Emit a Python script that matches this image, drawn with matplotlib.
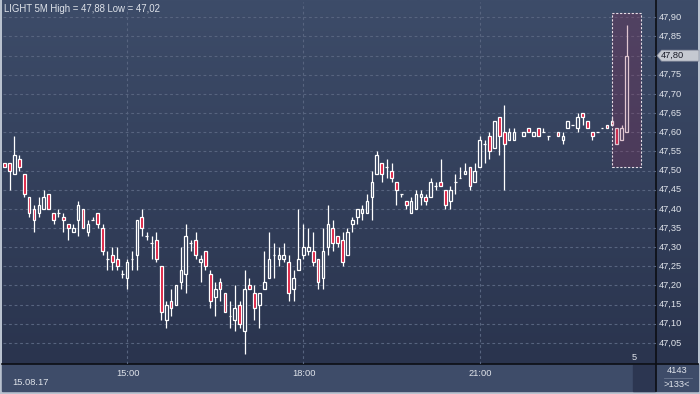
import numpy as np
import pandas as pd
import matplotlib
matplotlib.use("Agg")
import matplotlib.pyplot as plt
from matplotlib.patches import Rectangle, Polygon

plt.rcParams['font.family'] = ['Liberation Sans', 'DejaVu Sans']

# 5 minute bars, LIGHT, 15.08.17 (None = no trade in that bar)
opens = [47.52, 47.52, 47.49, 47.53, 47.49, 47.43, 47.40, 47.39, 47.40, 47.44,
         47.39, 47.39, 47.38, 47.36, 47.34, 47.37, 47.40, 47.34, 47.37, 47.39,
         47.35, 47.27, 47.28, 47.27, 47.23, 47.22, 47.27, 47.28, 47.38, 47.33,
         47.31, 47.32, 47.25, 47.11, 47.16, 47.15, 47.21, 47.23, 47.31, 47.32,
         47.26, 47.29, 47.23, 47.17, 47.21, 47.18, 47.12, 47.11, 47.15, 47.08,
         47.20, 47.18, 47.15, 47.19, 47.22, 47.28, 47.27, 47.27, 47.26, 47.19,
         47.24, 47.28, 47.29, 47.29, 47.27, 47.22, 47.30, 47.35, 47.33, 47.32,
         47.28, 47.36, 47.38, 47.39, 47.39, 47.43, 47.49, 47.52, 47.51, 47.50,
         47.47, 47.44, 47.42, 47.39, 47.40, 47.43, 47.43, 47.43, 47.46, 47.47,
         47.45, 47.42, 47.47, 47.48, 47.49, 47.51, 47.47, 47.51, 47.57, 47.59,
         47.56, 47.64, 47.60, 47.58, 47.58, None, 47.59, 47.61, 47.59, 47.61,
         47.60, 47.59, None, 47.60, 47.58, 47.61, 47.62, 47.61, 47.65, 47.63,
         47.60, 47.60, 47.61, 47.62, 47.63, 47.61, 47.58, 47.60]
highs = [47.52, 47.52, 47.59, 47.54, 47.49, 47.43, 47.41, 47.43, 47.45, 47.44,
         47.39, 47.40, 47.39, 47.36, 47.36, 47.42, 47.40, 47.37, 47.38, 47.39,
         47.36, 47.29, 47.30, 47.30, 47.24, 47.27, 47.29, 47.37, 47.40, 47.34,
         47.33, 47.34, 47.25, 47.16, 47.19, 47.20, 47.30, 47.36, 47.32, 47.34,
         47.28, 47.29, 47.24, 47.21, 47.22, 47.18, 47.16, 47.20, 47.16, 47.24,
         47.22, 47.20, 47.18, 47.29, 47.34, 47.31, 47.30, 47.31, 47.28, 47.24,
         47.40, 47.36, 47.35, 47.34, 47.27, 47.35, 47.41, 47.37, 47.33, 47.34,
         47.35, 47.38, 47.40, 47.41, 47.44, 47.50, 47.55, 47.52, 47.53, 47.52,
         47.47, 47.44, 47.42, 47.43, 47.45, 47.45, 47.44, 47.48, 47.47, 47.53,
         47.45, 47.46, 47.49, 47.51, 47.52, 47.51, 47.52, 47.59, 47.58, 47.60,
         47.63, 47.64, 47.67, 47.61, 47.61, None, 47.60, 47.61, 47.60, 47.61,
         47.61, 47.59, None, 47.60, 47.60, 47.63, 47.62, 47.65, 47.65, 47.63,
         47.60, 47.60, 47.61, 47.62, 47.64, 47.61, 47.62, 47.88]
lows = [47.51, 47.45, 47.49, 47.50, 47.43, 47.38, 47.34, 47.38, 47.40, 47.40,
        47.36, 47.38, 47.34, 47.32, 47.34, 47.33, 47.35, 47.33, 47.37, 47.35,
        47.28, 47.24, 47.24, 47.24, 47.22, 47.19, 47.24, 47.24, 47.33, 47.32,
        47.27, 47.26, 47.11, 47.09, 47.12, 47.15, 47.19, 47.18, 47.29, 47.27,
        47.21, 47.24, 47.14, 47.12, 47.16, 47.13, 47.09, 47.08, 47.09, 47.02,
        47.19, 47.11, 47.09, 47.19, 47.22, 47.22, 47.25, 47.26, 47.16, 47.16,
        47.24, 47.27, 47.28, 47.25, 47.19, 47.19, 47.28, 47.29, 47.30, 47.25,
        47.28, 47.34, 47.36, 47.37, 47.39, 47.37, 47.49, 47.47, 47.48, 47.47,
        47.41, 47.43, 47.40, 47.39, 47.40, 47.41, 47.41, 47.43, 47.45, 47.46,
        47.40, 47.40, 47.44, 47.48, 47.49, 47.45, 47.47, 47.51, 47.52, 47.53,
        47.56, 47.54, 47.45, 47.58, 47.58, None, 47.59, 47.60, 47.59, 47.59,
        47.60, 47.58, None, 47.59, 47.57, 47.61, 47.62, 47.60, 47.62, 47.61,
        47.58, 47.60, 47.61, 47.61, 47.62, 47.57, 47.58, 47.60]
closes = [47.51, 47.50, 47.54, 47.51, 47.44, 47.39, 47.37, 47.41, 47.43, 47.40,
          47.37, 47.39, 47.37, 47.35, 47.35, 47.41, 47.35, 47.36, 47.37, 47.36,
          47.29, 47.27, 47.26, 47.25, 47.23, 47.26, 47.27, 47.37, 47.35, 47.33,
          47.31, 47.27, 47.13, 47.15, 47.14, 47.20, 47.24, 47.33, 47.31, 47.28,
          47.27, 47.25, 47.16, 47.19, 47.19, 47.13, 47.12, 47.14, 47.10, 47.19,
          47.19, 47.14, 47.18, 47.21, 47.27, 47.28, 47.28, 47.28, 47.18, 47.22,
          47.27, 47.30, 47.30, 47.26, 47.21, 47.29, 47.36, 47.31, 47.31, 47.26,
          47.34, 47.37, 47.40, 47.40, 47.42, 47.47, 47.54, 47.49, 47.51, 47.48,
          47.45, 47.44, 47.41, 47.42, 47.44, 47.44, 47.42, 47.47, 47.46, 47.46,
          47.41, 47.45, 47.47, 47.48, 47.50, 47.46, 47.50, 47.58, 47.57, 47.55,
          47.63, 47.59, 47.57, 47.60, 47.60, None, 47.60, 47.60, 47.60, 47.59,
          47.60, 47.59, None, 47.59, 47.59, 47.63, 47.62, 47.64, 47.64, 47.61,
          47.59, 47.60, 47.61, 47.61, 47.62, 47.57, 47.61, 47.80]

bar_times = pd.date_range('2017-08-15 12:55', periods=len(closes), freq='5min')
tick_labels = ['15:00', '18:00', '21:00']
price_ticks = [47.05, 47.10, 47.15, 47.20, 47.25, 47.30, 47.35, 47.40, 47.45,
               47.50, 47.55, 47.60, 47.65, 47.70, 47.75, 47.80, 47.85, 47.90]
title = 'LIGHT 5M High = 47,88 Low = 47,02'
date_label = '15.08.17'
last_price = closes[-1]

W, H = 700, 394
fig = plt.figure(figsize=(7, 3.94), dpi=100)
fig.patch.set_facecolor('#b9c2cf')

# background layer in pixel coordinates
bg = fig.add_axes([0, 0, 1, 1])
bg.set_xlim(0, W)
bg.set_ylim(H, 0)
bg.axis('off')
top_c = np.array([61, 76, 105]) / 255
bot_c = np.array([42, 52, 78]) / 255
grad = np.linspace(0, 1, 256)[:, None, None]
img = top_c * (1 - grad) + bot_c * grad
bg.imshow(img, extent=[2, 698, 364, 0], aspect='auto', interpolation='bilinear')
bg.add_patch(Rectangle((2, 364), 696, 27, color='#3e4c69'))
bg.add_patch(Rectangle((633, 365), 22, 26, color='#2c3651'))
bg.plot([656, 656], [0, 391], color='#0c0e14', lw=1.2)
bg.plot([2, 698], [364, 364], color='#0c0e14', lw=1.2)
bg.plot([664, 692], [377.5, 377.5], color='#6a7690', lw=0.6)
bg.set_autoscale_on(False)

ax = fig.add_axes([3 / W, 30 / H, 653 / W, 362 / H])
ax.set_facecolor('none')
ax.set_xlim(-0.33, 133.0)
ax.set_ylim(46.995, 47.94)
for s in ax.spines.values():
    s.set_visible(False)
ax.set_xticks([])
ax.set_yticks([])

grid_kw = dict(color='#57647f', lw=0.8, dashes=(2.5, 2.5), zorder=1)
for p in price_ticks:
    ax.axhline(p, **grid_kw)
hhmm = bar_times.strftime('%H:%M')
tick_pos = [int(np.where(hhmm == t)[0][0]) for t in tick_labels]
for xp in tick_pos:
    ax.axvline(xp, **grid_kw)

y0, y1 = ax.get_ylim()


def bg_at(price):
    f = (y1 - price) / (y1 - y0)
    return top_c * (1 - f) + bot_c * f


bw = 0.55
for i in range(len(closes)):
    o, h, l, c = opens[i], highs[i], lows[i], closes[i]
    if o is None:
        continue
    ax.plot([i, i], [l, h], color='white', lw=0.9, zorder=3, solid_capstyle='butt')
    lo, hi = min(o, c), max(o, c)
    face = '#dc1438' if c < o else bg_at((lo + hi) / 2)
    ax.add_patch(Rectangle((i - bw / 2, lo), bw, hi - lo, facecolor=face,
                           edgecolor='white', lw=0.9, zorder=4))

# highlighted last bars
ax.add_patch(Rectangle((124.1, 47.509), 5.9, 0.402, facecolor=(0.55, 0.16, 0.33, 0.27),
                       edgecolor='none', zorder=5))
ax.add_patch(Rectangle((124.1, 47.509), 5.9, 0.402, facecolor='none',
                       edgecolor='#e6dde6', lw=0.8, ls=(0, (2, 1.5)), zorder=6))

txt = '#dfe3ea'
fs = 6.7
ytr = ax.get_yaxis_transform()
for p in price_ticks:
    if abs(p - last_price) < 1e-6:
        continue
    ax.text(1.0045, p, f'{p:.2f}'.replace('.', ','), transform=ytr, ha='left',
            va='center', color=txt, fontsize=fs, clip_on=False)

# last price marker
py = 2 + (y1 - last_price) / (y1 - y0) * 362
bg.add_patch(Polygon([[657, py], [661.5, py - 5.5], [699, py - 5.5], [699, py + 5.5],
                      [661.5, py + 5.5]], closed=True, facecolor='#c5c9d1',
                     edgecolor='#8a90a0', lw=0.5, zorder=10))
bg.text(661, py, f'{last_price:.2f}'.replace('.', ','), ha='left', va='center',
        color='#1a1c28', fontsize=fs, zorder=11)

bg.text(4, 9, title, ha='left', va='center', color=txt, fontsize=fs + 0.2)
for lab, xp in zip(tick_labels, tick_pos):
    xpx = 3 + (xp - (-0.33)) / (133.0 + 0.33) * 653
    bg.text(xpx + 1, 373.5, lab, ha='center', va='center', color=txt, fontsize=fs)
bg.text(12, 382.5, date_label, ha='left', va='center', color=txt, fontsize=fs)
bg.text(677, 370.5, '4143', ha='center', va='center', color=txt, fontsize=fs)
bg.text(677, 384.5, '>133<', ha='center', va='center', color=txt, fontsize=fs)
bg.text(634, 358, '5', ha='center', va='center', color=txt, fontsize=fs)

fig.savefig('out.png', dpi=100, facecolor=fig.get_facecolor())
